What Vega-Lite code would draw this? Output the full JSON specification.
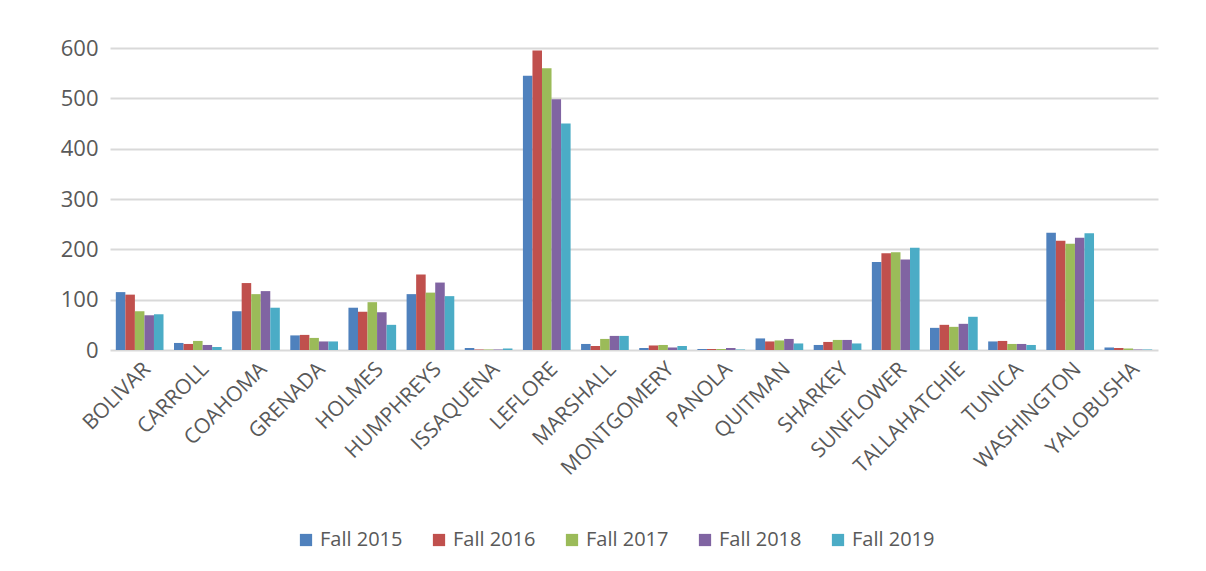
{
  "$schema": "https://vega.github.io/schema/vega-lite/v6.json",
  "width": 1048,
  "height": 302,
  "padding": {"left": 60, "top": 37, "right": 46, "bottom": 10},
  "background": "white",
  "data": {
    "values": [
      {"county": "BOLIVAR", "term": "Fall 2015", "count": 115},
      {"county": "BOLIVAR", "term": "Fall 2016", "count": 110},
      {"county": "BOLIVAR", "term": "Fall 2017", "count": 77},
      {"county": "BOLIVAR", "term": "Fall 2018", "count": 69},
      {"county": "BOLIVAR", "term": "Fall 2019", "count": 71},
      {"county": "CARROLL", "term": "Fall 2015", "count": 14},
      {"county": "CARROLL", "term": "Fall 2016", "count": 12},
      {"county": "CARROLL", "term": "Fall 2017", "count": 18},
      {"county": "CARROLL", "term": "Fall 2018", "count": 10},
      {"county": "CARROLL", "term": "Fall 2019", "count": 6},
      {"county": "COAHOMA", "term": "Fall 2015", "count": 77},
      {"county": "COAHOMA", "term": "Fall 2016", "count": 133},
      {"county": "COAHOMA", "term": "Fall 2017", "count": 111},
      {"county": "COAHOMA", "term": "Fall 2018", "count": 117},
      {"county": "COAHOMA", "term": "Fall 2019", "count": 84},
      {"county": "GRENADA", "term": "Fall 2015", "count": 29},
      {"county": "GRENADA", "term": "Fall 2016", "count": 30},
      {"county": "GRENADA", "term": "Fall 2017", "count": 24},
      {"county": "GRENADA", "term": "Fall 2018", "count": 17},
      {"county": "GRENADA", "term": "Fall 2019", "count": 17},
      {"county": "HOLMES", "term": "Fall 2015", "count": 84},
      {"county": "HOLMES", "term": "Fall 2016", "count": 76},
      {"county": "HOLMES", "term": "Fall 2017", "count": 95},
      {"county": "HOLMES", "term": "Fall 2018", "count": 75},
      {"county": "HOLMES", "term": "Fall 2019", "count": 50},
      {"county": "HUMPHREYS", "term": "Fall 2015", "count": 111},
      {"county": "HUMPHREYS", "term": "Fall 2016", "count": 150},
      {"county": "HUMPHREYS", "term": "Fall 2017", "count": 114},
      {"county": "HUMPHREYS", "term": "Fall 2018", "count": 134},
      {"county": "HUMPHREYS", "term": "Fall 2019", "count": 107},
      {"county": "ISSAQUENA", "term": "Fall 2015", "count": 4},
      {"county": "ISSAQUENA", "term": "Fall 2016", "count": 1},
      {"county": "ISSAQUENA", "term": "Fall 2017", "count": 1},
      {"county": "ISSAQUENA", "term": "Fall 2018", "count": 1},
      {"county": "ISSAQUENA", "term": "Fall 2019", "count": 3},
      {"county": "LEFLORE", "term": "Fall 2015", "count": 545},
      {"county": "LEFLORE", "term": "Fall 2016", "count": 595},
      {"county": "LEFLORE", "term": "Fall 2017", "count": 560},
      {"county": "LEFLORE", "term": "Fall 2018", "count": 498},
      {"county": "LEFLORE", "term": "Fall 2019", "count": 450},
      {"county": "MARSHALL", "term": "Fall 2015", "count": 12},
      {"county": "MARSHALL", "term": "Fall 2016", "count": 8},
      {"county": "MARSHALL", "term": "Fall 2017", "count": 22},
      {"county": "MARSHALL", "term": "Fall 2018", "count": 28},
      {"county": "MARSHALL", "term": "Fall 2019", "count": 28},
      {"county": "MONTGOMERY", "term": "Fall 2015", "count": 4},
      {"county": "MONTGOMERY", "term": "Fall 2016", "count": 9},
      {"county": "MONTGOMERY", "term": "Fall 2017", "count": 10},
      {"county": "MONTGOMERY", "term": "Fall 2018", "count": 5},
      {"county": "MONTGOMERY", "term": "Fall 2019", "count": 8},
      {"county": "PANOLA", "term": "Fall 2015", "count": 2},
      {"county": "PANOLA", "term": "Fall 2016", "count": 2},
      {"county": "PANOLA", "term": "Fall 2017", "count": 2},
      {"county": "PANOLA", "term": "Fall 2018", "count": 4},
      {"county": "PANOLA", "term": "Fall 2019", "count": 1},
      {"county": "QUITMAN", "term": "Fall 2015", "count": 23},
      {"county": "QUITMAN", "term": "Fall 2016", "count": 17},
      {"county": "QUITMAN", "term": "Fall 2017", "count": 19},
      {"county": "QUITMAN", "term": "Fall 2018", "count": 22},
      {"county": "QUITMAN", "term": "Fall 2019", "count": 13},
      {"county": "SHARKEY", "term": "Fall 2015", "count": 10},
      {"county": "SHARKEY", "term": "Fall 2016", "count": 16},
      {"county": "SHARKEY", "term": "Fall 2017", "count": 20},
      {"county": "SHARKEY", "term": "Fall 2018", "count": 20},
      {"county": "SHARKEY", "term": "Fall 2019", "count": 13},
      {"county": "SUNFLOWER", "term": "Fall 2015", "count": 175},
      {"county": "SUNFLOWER", "term": "Fall 2016", "count": 192},
      {"county": "SUNFLOWER", "term": "Fall 2017", "count": 194},
      {"county": "SUNFLOWER", "term": "Fall 2018", "count": 180},
      {"county": "SUNFLOWER", "term": "Fall 2019", "count": 203},
      {"county": "TALLAHATCHIE", "term": "Fall 2015", "count": 44},
      {"county": "TALLAHATCHIE", "term": "Fall 2016", "count": 50},
      {"county": "TALLAHATCHIE", "term": "Fall 2017", "count": 46},
      {"county": "TALLAHATCHIE", "term": "Fall 2018", "count": 52},
      {"county": "TALLAHATCHIE", "term": "Fall 2019", "count": 66},
      {"county": "TUNICA", "term": "Fall 2015", "count": 17},
      {"county": "TUNICA", "term": "Fall 2016", "count": 18},
      {"county": "TUNICA", "term": "Fall 2017", "count": 12},
      {"county": "TUNICA", "term": "Fall 2018", "count": 12},
      {"county": "TUNICA", "term": "Fall 2019", "count": 10},
      {"county": "WASHINGTON", "term": "Fall 2015", "count": 233},
      {"county": "WASHINGTON", "term": "Fall 2016", "count": 217},
      {"county": "WASHINGTON", "term": "Fall 2017", "count": 211},
      {"county": "WASHINGTON", "term": "Fall 2018", "count": 223},
      {"county": "WASHINGTON", "term": "Fall 2019", "count": 232},
      {"county": "YALOBUSHA", "term": "Fall 2015", "count": 5},
      {"county": "YALOBUSHA", "term": "Fall 2016", "count": 4},
      {"county": "YALOBUSHA", "term": "Fall 2017", "count": 3},
      {"county": "YALOBUSHA", "term": "Fall 2018", "count": 1},
      {"county": "YALOBUSHA", "term": "Fall 2019", "count": 1}
    ]
  },
  "mark": {"type": "bar"},
  "encoding": {
    "x": {
      "field": "county",
      "type": "nominal",
      "sort": null,
      "title": null,
      "scale": {"paddingInner": 0.18, "paddingOuter": 0.1},
      "axis": {
        "labelAngle": -45,
        "labelFontSize": 21,
        "labelFont": "Open Sans",
        "labelColor": "#595959",
        "labelPadding": 8,
        "ticks": false,
        "domain": false,
        "grid": false
      }
    },
    "xOffset": {"field": "term", "type": "nominal", "sort": null, "scale": {"paddingInner": 0}},
    "y": {
      "field": "count",
      "type": "quantitative",
      "title": null,
      "scale": {"domain": [0, 600]},
      "axis": {
        "values": [0, 100, 200, 300, 400, 500, 600],
        "labelFontSize": 22,
        "labelFont": "Open Sans",
        "labelColor": "#595959",
        "labelPadding": 12,
        "ticks": false,
        "domain": false,
        "gridColor": "#d9d9d9",
        "gridWidth": 2
      }
    },
    "color": {
      "field": "term",
      "type": "nominal",
      "sort": null,
      "scale": {
        "domain": ["Fall 2015", "Fall 2016", "Fall 2017", "Fall 2018", "Fall 2019"],
        "range": ["#4F81BD", "#C0504D", "#9BBB59", "#8064A2", "#4BACC6"]
      },
      "legend": {
        "orient": "none",
        "legendX": 186,
        "legendY": 482,
        "direction": "horizontal",
        "title": null,
        "symbolType": "square",
        "symbolSize": 150,
        "symbolStrokeWidth": 0,
        "labelFontSize": 20,
        "labelFont": "Open Sans",
        "labelColor": "#595959",
        "columnPadding": 26
      }
    }
  },
  "config": {
    "view": {"stroke": null}
  }
}
